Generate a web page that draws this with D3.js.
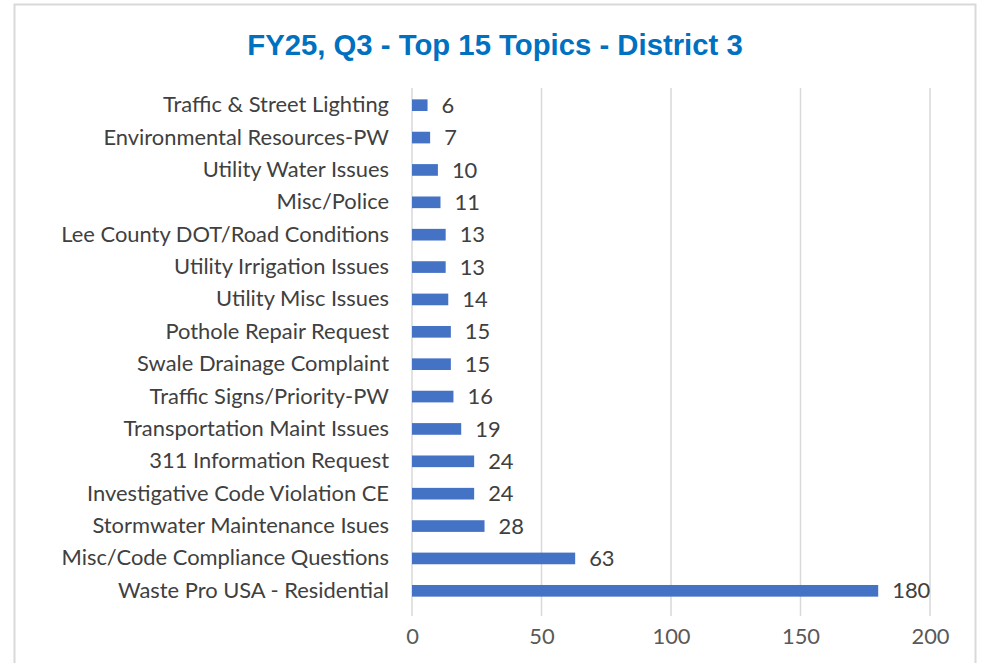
<!DOCTYPE html>
<html>
<head>
<meta charset="utf-8">
<script src="https://cdn.jsdelivr.net/npm/d3@7"></script>
<style>
  body { margin: 0; background: #fff; }
  svg { display: block; }
</style>
</head>
<body>
<script>

// Chart data.
var categories = [
  'Traffic & Street Lighting',
  'Environmental Resources-PW',
  'Utility Water Issues',
  'Misc/Police',
  'Lee County DOT/Road Conditions',
  'Utility Irrigation Issues',
  'Utility Misc Issues',
  'Pothole Repair Request',
  'Swale Drainage Complaint',
  'Traffic Signs/Priority-PW',
  'Transportation Maint Issues',
  '311 Information Request',
  'Investigative Code Violation CE',
  'Stormwater Maintenance Isues',
  'Misc/Code Compliance Questions',
  'Waste Pro USA - Residential'
];
var values = [6, 7, 10, 11, 13, 13, 14, 15, 15, 16, 19, 24, 24, 28, 63, 180];
var ticks = [0, 50, 100, 150, 200];

var W = 983, H = 663;
var font = 'Lato, "Open Sans", sans-serif';
var fontSize = 21.9;

var svg = d3.select('body').append('svg')
  .attr('width', W).attr('height', H);

// Chart frame.
svg.append('rect')
  .attr('x', 14.5).attr('y', 4.5)
  .attr('width', 961).attr('height', 680)
  .attr('fill', '#fff')
  .attr('stroke', '#d9d9d9').attr('stroke-width', 2);

// Title.
svg.append('text')
  .attr('x', 495).attr('y', 55)
  .attr('text-anchor', 'middle')
  .attr('font-family', 'Arial, "Liberation Sans", sans-serif')
  .attr('font-weight', 'bold')
  .attr('font-size', 29.3)
  .attr('fill', '#0070c0')
  .text('FY25, Q3 - Top 15 Topics - District 3');

// Scales.
var x = d3.scaleLinear().domain([0, 200]).range([412, 930]);
var y = d3.scaleBand().domain(categories).range([89, 607]).paddingInner(0.64).paddingOuter(0.32);

// Gridlines.
svg.append('g').selectAll('line')
  .data(ticks).join('line')
  .attr('x1', function(d) { return x(d); })
  .attr('x2', function(d) { return x(d); })
  .attr('y1', 88).attr('y2', 616)
  .attr('stroke', '#d9d9d9').attr('stroke-width', 1.5);

// Bottom axis labels.
var xAxis = svg.append('g')
  .attr('transform', 'translate(0,616)')
  .call(d3.axisBottom(x).tickValues(ticks).tickSize(0).tickPadding(12));
xAxis.select('.domain').remove();
xAxis.selectAll('text')
  .attr('font-family', font).attr('font-size', fontSize).attr('fill', '#595959');

// Category labels.
var yAxis = svg.append('g')
  .attr('transform', 'translate(412,0)')
  .call(d3.axisLeft(y).tickSize(0).tickPadding(23));
yAxis.select('.domain').remove();
yAxis.selectAll('text')
  .attr('font-family', font).attr('font-size', fontSize).attr('fill', '#404040');

// Bars.
svg.append('g').selectAll('rect')
  .data(values).join('rect')
  .attr('x', x(0))
  .attr('y', function(d, i) { return y(categories[i]); })
  .attr('width', function(d) { return x(d) - x(0); })
  .attr('height', y.bandwidth())
  .attr('fill', '#4472c4');

// Value labels.
svg.append('g').selectAll('text')
  .data(values).join('text')
  .attr('x', function(d) { return x(d) + 14; })
  .attr('y', function(d, i) { return y(categories[i]) + y.bandwidth() / 2; })
  .attr('dy', '0.35em')
  .attr('font-family', font).attr('font-size', fontSize).attr('fill', '#404040')
  .text(function(d) { return d; });

</script>
</body>
</html>
